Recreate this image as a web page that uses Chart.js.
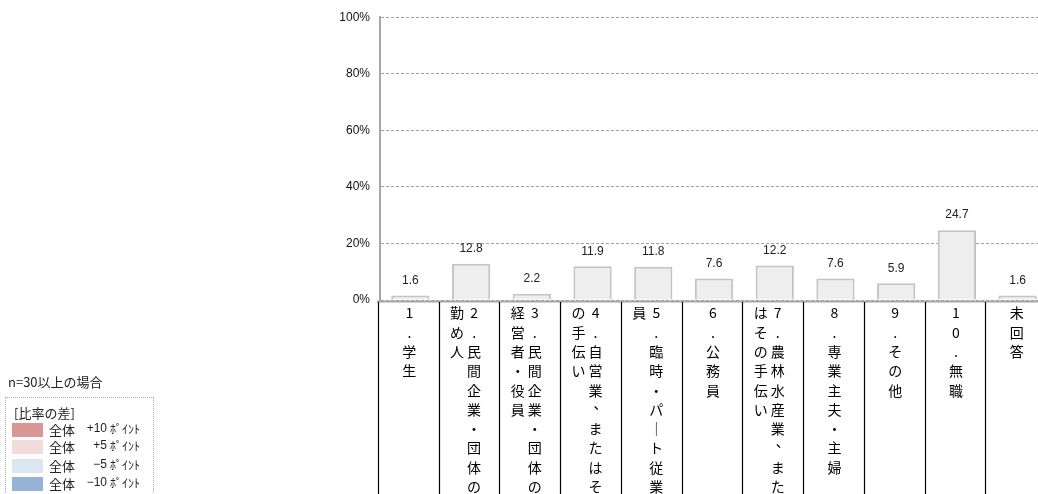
<!DOCTYPE html>
<html>
<head>
<meta charset="utf-8">
<script src="https://cdn.jsdelivr.net/npm/chart.js@4"></script>
<style>
  html, body { margin: 0; padding: 0; background: #fff; overflow: hidden; }
  #wrap { position: absolute; left: 0; top: 0; width: 1060px; height: 494px; }
  #note { position: absolute; left: 8px; top: 372px; font: 13px "Noto Sans CJK JP", sans-serif; color: #222; }
  #legendBox { position: absolute; left: 5px; top: 397px; width: 147px; height: 110px;
    border: 1px dotted #aaa; font: 13px "Noto Sans CJK JP", sans-serif; color: #222; }
  #legendBox .ttl { position: absolute; left: 8px; top: 5px; }
  #legendBox .row { position: absolute; left: 6px; height: 14px; width: 140px; }
  #legendBox .sw { position: absolute; left: 0; top: 0; width: 31px; height: 14px; }
  #legendBox .t1 { position: absolute; left: 37px; top: -3px; }
  #legendBox .t2 { position: absolute; left: 60px; width: 35px; text-align: right; top: -2px; font: 12px "Liberation Sans", sans-serif; }
  #legendBox .t3 { position: absolute; left: 98px; top: -3px; font-size: 12px; }
</style>
</head>
<body>
<div id="wrap"><canvas id="mainChart"></canvas></div>
<div id="note">n=30以上の場合</div>
<div id="legendBox"><div class="ttl">[比率の差]</div></div>
<script>
// chart data
const categories = [
    '1.学生',
    '2.民間企業・団体の勤め人',
    '3.民間企業・団体の経営者・役員',
    '4.自営業、またはその手伝い',
    '5.臨時・パート従業員',
    '6.公務員',
    '7.農林水産業、またはその手伝い',
    '8.専業主夫・主婦',
    '9.その他',
    '10.無職',
    '未回答'
];
const values = [1.6, 12.8, 2.2, 11.9, 11.8, 7.6, 12.2, 7.6, 5.9, 24.7, 1.6];
const yTicks = [0, 20, 40, 60, 80, 100];

// legend of the comparison colours
const legendDiffs = ['+10', '+5', '\u22125', '\u221210'];
const legendColors = ['#da9694', '#f2dcdb', '#dce6f1', '#95b3d7'];

const box = document.getElementById('legendBox');
const rowTops = [25, 42, 61, 79];
legendDiffs.forEach((d, i) => {
    const row = document.createElement('div');
    row.className = 'row';
    row.style.top = rowTops[i] + 'px';
    row.innerHTML = `<div class="sw" style="background:${legendColors[i]}"></div>` +
        `<span class="t1">全体</span><span class="t2">${d}</span><span class="t3">ﾎﾟｲﾝﾄ</span>`;
    box.appendChild(row);
});

// value above each bar
const valueLabels = {
    id: 'valueLabels',
    afterDatasetsDraw(chart) {
        const ctx = chart.ctx;
        const meta = chart.getDatasetMeta(0);
        ctx.save();
        ctx.font = '12px "Liberation Sans", Arial, sans-serif';
        ctx.fillStyle = '#222';
        ctx.textAlign = 'center';
        ctx.textBaseline = 'middle';
        meta.data.forEach((bar, i) => {
            ctx.fillText(values[i].toFixed(1), bar.x, bar.y - 15);
        });
        ctx.restore();
    }
};

// category table under the axis, vertical japanese text
const categoryTable = {
    id: 'categoryTable',
    afterDraw(chart) {
        const ctx = chart.ctx;
        const xs = chart.scales.x;
        const top = chart.chartArea.bottom;
        const n = categories.length;
        const step = xs.width / n;
        ctx.save();
        ctx.strokeStyle = '#a6a6a6';
        ctx.lineWidth = 2;
        ctx.beginPath();
        ctx.moveTo(xs.left - 3, top + 1.5);
        ctx.lineTo(chart.width, top + 1.5);
        ctx.stroke();

        ctx.strokeStyle = '#000';
        ctx.lineWidth = 1.2;
        for (let i = 0; i <= n; i++) {
            const x = Math.round(xs.getPixelForValue(0) - step / 2 + i * step) - 1.5;
            ctx.beginPath();
            ctx.moveTo(x, top + 2);
            ctx.lineTo(x, chart.height);
            ctx.stroke();
        }

        ctx.font = '14px "Noto Sans CJK JP", sans-serif';
        ctx.fillStyle = '#000';
        ctx.textAlign = 'center';
        ctx.textBaseline = 'middle';
        const perCol = 10;
        const pitch = 19.3;
        categories.forEach((label, i) => {
            const chars = Array.from(label);
            const cols = Math.ceil(chars.length / perCol);
            const c = xs.getPixelForValue(i) - 1;
            chars.forEach((ch, k) => {
                const col = Math.floor(k / perCol);
                const row = k % perCol;
                let x = cols === 1 ? c : c + 4 - col * 17;
                let y = top + 13 + row * pitch;
                let g = ch;
                if (ch === 'ー') g = '｜';
                if (ch === '、') { x += 5; y -= 6; }
                ctx.fillText(g, x, y);
            });
        });
        ctx.restore();
    }
};

const ctx = document.getElementById('mainChart').getContext('2d');
new Chart(ctx, {
    type: 'bar',
    data: {
        labels: categories,
        datasets: [{
            data: values,
            backgroundColor: '#eeeeee',
            borderColor: '#c4c4c4',
            borderWidth: 2,
            barPercentage: 0.63,
            categoryPercentage: 1
        }]
    },
    options: {
        responsive: true,
        maintainAspectRatio: false,
        animation: false,
        layout: {
            padding: { top: 15, right: 12, bottom: 194, left: 0 }
        },
        scales: {
            x: {
                display: false
            },
            y: {
                min: 0,
                max: 100,
                afterFit(scale) { scale.width = 380; },
                afterBuildTicks(scale) { scale.ticks = yTicks.map(v => ({ value: v })); },
                ticks: {
                    padding: 10,
                    color: '#111',
                    font: { size: 12, family: '"Liberation Sans", Arial, sans-serif' },
                    callback: v => v + '%'
                },
                grid: {
                    color: '#a0a0a0',
                    lineWidth: 1,
                    drawTicks: false
                },
                border: {
                    display: true,
                    color: '#a6a6a6',
                    width: 2,
                    dash: [3, 2]
                }
            }
        },
        plugins: {
            legend: { display: false },
            tooltip: { enabled: false }
        }
    },
    plugins: [valueLabels, categoryTable]
});
</script>
</body>
</html>
